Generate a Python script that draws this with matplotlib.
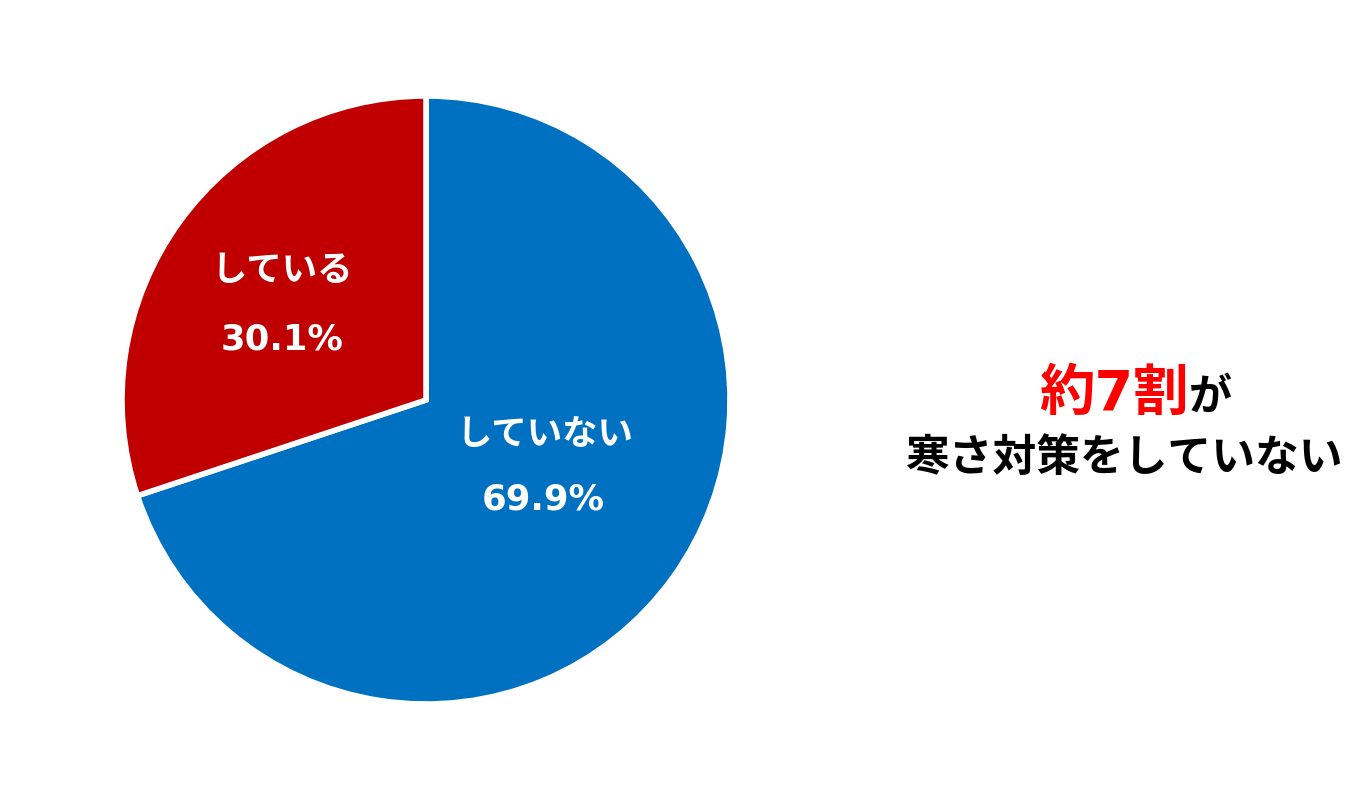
import matplotlib
matplotlib.use('Agg')
import matplotlib.pyplot as plt

plt.rcParams['font.family'] = ['Noto Sans CJK JP', 'DejaVu Sans']

# data
labels = ['していない', 'している']
values = [69.9, 30.1]
colors = ['#0070C0', '#C00000']

W, H = 1349, 801
fig = plt.figure(figsize=(W / 100, H / 100), dpi=100)

# pie area: center (426, 400), radius 304 px
cx, cy, r = 426, 400, 304
ax = fig.add_axes([(cx - r) / W, (H - cy - r) / H, 2 * r / W, 2 * r / H])
ax.pie(values, colors=colors, startangle=90, counterclock=False, radius=1,
       wedgeprops=dict(edgecolor='white', linewidth=4))
ax.set_xlim(-1.0, 1.0)
ax.set_ylim(-1.0, 1.0)
ax.set_aspect('equal')
ax.axis('off')

# labels inside slices (pixel positions -> data coords)
def px(x, y):
    return (x - cx) / r, (cy - y) / r

label_pos = [((545, 434), (543, 500)), ((282, 270), (282, 340))]
for lab, val, (p1, p2) in zip(labels, values, label_pos):
    ax.text(*px(*p1), lab, fontsize=25.5, weight='bold', color='white',
            ha='center', va='center')
    ax.text(*px(*p2), f'{val:.1f}%', fontsize=25.5, weight='bold', color='white',
            ha='center', va='center', family=['DejaVu Sans'])

# side note
fig.text(1189 / W, 1 - 410 / H, '約7割', fontsize=40, weight='bold', color='#FF0000',
         ha='right', va='baseline', family=['DejaVu Sans', 'Noto Sans CJK JP'])
fig.text(1189 / W, 1 - 410 / H, 'が', fontsize=31, weight='bold', color='black',
         ha='left', va='baseline')
fig.text(1125 / W, 1 - 471 / H, '寒さ対策をしていない', fontsize=31.5, weight='bold',
         color='black', ha='center', va='baseline')

fig.savefig('out.png', dpi=100, facecolor='white')
